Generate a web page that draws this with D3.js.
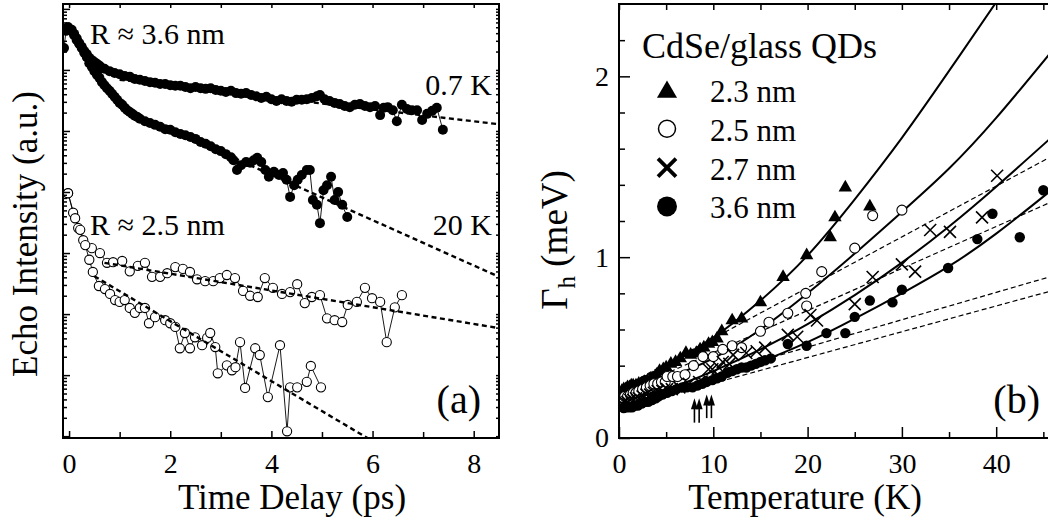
<!DOCTYPE html>
<html>
<head>
<meta charset="utf-8">
<script src="https://cdn.jsdelivr.net/npm/d3@7"></script>
<style>
body { margin: 0; background: #fff; }
svg { display: block; font-family: "Liberation Serif", "Times New Roman", serif; }
</style>
</head>
<body>
<div id="chart"></div>
<script>
// ---- panel (a): echo decay, [time delay (ps), log10 intensity (a.u.)] ----
var echo36_07K = [[-0.10,-0.64],[-0.06,-0.36],[-0.02,-0.30],[0.05,-0.34],[0.10,-0.41],[0.15,-0.48],[0.20,-0.56],[0.25,-0.62],[0.30,-0.69],[0.35,-0.74],[0.40,-0.80],[0.45,-0.84],[0.50,-0.87],[0.55,-0.90],[0.60,-0.93],[0.65,-0.97],[0.70,-0.98],[0.80,-1.02],[0.90,-1.05],[1.00,-1.07],[1.10,-1.10],[1.20,-1.11],[1.30,-1.15],[1.40,-1.16],[1.50,-1.18],[1.60,-1.20],[1.70,-1.21],[1.80,-1.23],[1.90,-1.23],[2.00,-1.25],[2.10,-1.26],[2.20,-1.26],[2.30,-1.28],[2.40,-1.30],[2.50,-1.28],[2.60,-1.30],[2.70,-1.31],[2.80,-1.30],[2.90,-1.33],[3.00,-1.34],[3.10,-1.36],[3.20,-1.34],[3.30,-1.38],[3.40,-1.39],[3.50,-1.38],[3.60,-1.41],[3.70,-1.43],[3.80,-1.46],[3.90,-1.44],[4.00,-1.48],[4.10,-1.51],[4.20,-1.48],[4.30,-1.51],[4.40,-1.52],[4.50,-1.49],[4.60,-1.49],[4.70,-1.48],[4.80,-1.46],[4.90,-1.43],[4.96,-1.41],[5.05,-1.48],[5.15,-1.51],[5.25,-1.54],[5.35,-1.56],[5.45,-1.59],[5.55,-1.61],[5.65,-1.57],[5.75,-1.56],[5.85,-1.59],[5.95,-1.61],[6.05,-1.59],[6.15,-1.74],[6.22,-1.62],[6.30,-1.61],[6.40,-1.66],[6.48,-1.84],[6.58,-1.57],[6.68,-1.64],[6.78,-1.66],[6.88,-1.66],[6.98,-1.82],[7.08,-1.72],[7.18,-1.67],[7.27,-1.62],[7.39,-1.98]];
var echo36_20K = [[-0.02,-0.30],[0.05,-0.36],[0.10,-0.43],[0.15,-0.51],[0.20,-0.57],[0.25,-0.64],[0.30,-0.72],[0.35,-0.79],[0.40,-0.89],[0.45,-0.95],[0.50,-1.02],[0.55,-1.08],[0.60,-1.13],[0.65,-1.20],[0.70,-1.25],[0.75,-1.30],[0.80,-1.34],[0.85,-1.39],[0.90,-1.44],[0.95,-1.49],[1.00,-1.54],[1.05,-1.57],[1.10,-1.62],[1.15,-1.66],[1.20,-1.69],[1.25,-1.72],[1.30,-1.75],[1.35,-1.77],[1.40,-1.80],[1.50,-1.84],[1.60,-1.87],[1.70,-1.90],[1.80,-1.93],[1.90,-1.97],[2.00,-1.98],[2.10,-2.02],[2.20,-2.05],[2.30,-2.07],[2.40,-2.10],[2.50,-2.13],[2.60,-2.18],[2.70,-2.21],[2.80,-2.25],[2.90,-2.30],[3.00,-2.33],[3.10,-2.38],[3.20,-2.43],[3.25,-2.48],[3.32,-2.64],[3.40,-2.56],[3.50,-2.51],[3.58,-2.52],[3.65,-2.48],[3.72,-2.44],[3.80,-2.51],[3.88,-2.64],[3.95,-2.75],[4.05,-2.67],[4.15,-2.72],[4.23,-2.69],[4.30,-2.80],[4.37,-3.08],[4.45,-2.89],[4.52,-2.80],[4.60,-2.72],[4.70,-2.64],[4.76,-2.64],[4.82,-3.13],[4.90,-3.21],[4.96,-3.51],[5.03,-2.97],[5.10,-2.89],[5.18,-2.75],[5.25,-3.13],[5.32,-3.00],[5.40,-3.21],[5.50,-3.41]];
var echo25_slow = [[-0.02,-3.02],[0.08,-3.34],[0.18,-3.59],[0.28,-3.79],[0.45,-3.92],[0.61,-4.00],[0.75,-4.16],[0.87,-4.15],[1.05,-4.13],[1.20,-4.30],[1.36,-4.21],[1.50,-4.16],[1.64,-4.39],[1.80,-4.39],[1.94,-4.33],[2.10,-4.23],[2.25,-4.26],[2.39,-4.31],[2.53,-4.43],[2.69,-4.46],[2.85,-4.46],[2.98,-4.41],[3.12,-4.36],[3.28,-4.41],[3.44,-4.62],[3.58,-4.70],[3.73,-4.72],[3.87,-4.41],[4.03,-4.57],[4.21,-4.67],[4.37,-4.64],[4.51,-4.51],[4.66,-4.82],[4.80,-4.72],[4.96,-4.69],[5.10,-5.07],[5.25,-5.10],[5.40,-5.13],[5.51,-4.85],[5.69,-4.80],[5.85,-4.57],[5.99,-4.74],[6.15,-4.80],[6.28,-5.46],[6.44,-4.89],[6.58,-4.69]];
var echo25_fast = [[-0.02,-3.02],[0.12,-3.43],[0.22,-3.62],[0.32,-3.87],[0.40,-4.11],[0.47,-4.31],[0.59,-4.54],[0.71,-4.59],[0.81,-4.67],[0.91,-4.77],[1.00,-4.80],[1.10,-4.77],[1.20,-4.90],[1.30,-4.98],[1.40,-4.90],[1.50,-4.90],[1.58,-5.15],[1.70,-5.05],[1.90,-5.10],[2.00,-5.15],[2.10,-5.21],[2.19,-5.56],[2.29,-5.31],[2.39,-5.56],[2.49,-5.38],[2.63,-5.51],[2.73,-5.39],[2.79,-5.31],[2.89,-5.54],[2.94,-5.97],[3.12,-5.84],[3.22,-5.92],[3.29,-5.87],[3.38,-5.46],[3.48,-6.21],[3.68,-5.56],[3.77,-5.67],[3.93,-6.36],[4.17,-5.51],[4.31,-6.92],[4.37,-6.20],[4.51,-6.20],[4.70,-6.11],[4.78,-5.85],[4.98,-6.20]];
// exponential fits (straight on the log axis)
var fit36_07K = [[1.0,-1.16],[8.5,-1.89]];
var fit36_20K = [[2.5,-2.16],[8.5,-4.39]];
var fit25_slow = [[0.7,-4.16],[8.5,-5.23]];
var fit25_fast = [[0.5,-4.38],[6.0,-7.08]];
var timeTicks = [0, 2, 4, 6, 8];

// ---- panel (b): homogeneous linewidth, [temperature (K), Gamma_h (meV)] ----
var gam23 = [[0.3,0.26],[0.5,0.27],[0.7,0.27],[0.9,0.28],[1.1,0.28],[1.3,0.29],[1.5,0.29],[1.8,0.29],[2.1,0.30],[2.4,0.30],[2.7,0.31],[3.0,0.31],[3.3,0.32],[3.6,0.33],[4.0,0.35],[4.3,0.37],[4.7,0.38],[5.0,0.39],[5.5,0.41],[6.0,0.42],[6.5,0.44],[7.1,0.47],[7.6,0.46],[8.2,0.47],[8.6,0.49],[9.0,0.50],[9.5,0.52],[9.9,0.53],[10.4,0.55],[10.9,0.59],[12.0,0.65],[13.0,0.66],[15.0,0.75],[17.4,0.89],[19.9,1.01],[22.4,1.11],[22.9,1.22],[24.0,1.385],[26.6,1.28]];
var gam25 = [[0.3,0.22],[0.6,0.23],[0.9,0.23],[1.2,0.24],[1.5,0.25],[1.8,0.25],[2.1,0.26],[2.5,0.27],[2.9,0.28],[3.3,0.29],[3.7,0.30],[4.1,0.30],[4.5,0.31],[4.9,0.31],[5.1,0.34],[5.7,0.34],[6.2,0.34],[7.0,0.35],[7.9,0.40],[8.9,0.45],[10.0,0.45],[11.0,0.49],[12.0,0.51],[13.0,0.50],[15.0,0.59],[15.9,0.64],[17.9,0.69],[19.8,0.80],[19.9,0.73],[21.5,0.92],[25.0,1.05],[26.9,1.23],[30.0,1.26]];
var gam27 = [[0.3,0.19],[0.6,0.20],[0.9,0.20],[1.2,0.21],[1.5,0.21],[1.8,0.22],[2.1,0.22],[2.5,0.23],[2.9,0.24],[3.3,0.24],[3.7,0.25],[4.1,0.26],[4.6,0.26],[5.1,0.27],[5.6,0.27],[6.4,0.28],[7.4,0.30],[8.5,0.31],[9.5,0.38],[9.9,0.38],[10.6,0.39],[11.0,0.42],[11.7,0.41],[12.1,0.46],[13.5,0.47],[14.6,0.48],[15.5,0.50],[17.9,0.57],[18.9,0.56],[20.3,0.68],[21.0,0.65],[25.0,0.74],[26.9,0.89],[30.0,0.96],[31.4,0.92],[33.0,1.15],[35.1,1.14],[38.5,1.22],[40.1,1.45]];
var gam36 = [[0.5,0.165],[0.8,0.17],[1.1,0.17],[1.4,0.17],[1.7,0.18],[2.0,0.18],[2.4,0.19],[2.8,0.20],[3.1,0.20],[3.5,0.21],[3.9,0.22],[4.2,0.23],[4.6,0.24],[5.1,0.25],[5.6,0.26],[6.1,0.27],[6.7,0.28],[7.2,0.28],[7.8,0.28],[8.3,0.29],[8.8,0.30],[9.3,0.31],[9.9,0.32],[10.4,0.33],[10.9,0.34],[11.5,0.36],[12.0,0.37],[12.5,0.38],[13.0,0.39],[13.5,0.39],[14.0,0.40],[14.5,0.41],[15.0,0.42],[15.5,0.43],[16.1,0.44],[17.9,0.52],[19.9,0.51],[22.0,0.58],[24.0,0.58],[25.0,0.67],[26.6,0.76],[29.0,0.75],[30.0,0.82],[34.9,0.94],[38.0,1.10],[39.6,1.24],[42.5,1.11],[45.0,1.37]];
// full fits (solid) and linear parts (dashed)
var fit23 = [[0,0.27],[5,0.40],[10,0.555],[15,0.76],[20,1.01],[25,1.32],[30,1.66],[35,2.03],[40,2.41],[41,2.49]];
var fit25 = [[0,0.24],[5,0.33],[10,0.44],[15,0.60],[20,0.80],[25,1.02],[30,1.25],[35,1.49],[40,1.77],[45.6,2.12]];
var fit27 = [[0,0.20],[5,0.27],[10,0.37],[15,0.49],[20,0.63],[25,0.79],[30,0.97],[35,1.17],[40,1.39],[45.6,1.65]];
var fit36 = [[0,0.16],[5,0.24],[10,0.32],[15,0.42],[20,0.53],[25,0.66],[30,0.80],[35,0.95],[40,1.13],[45.6,1.36]];
var lin23 = [[0,0.27],[45.6,1.55]];
var lin25 = [[0,0.24],[45.6,1.30]];
var lin27 = [[0,0.20],[45.6,0.89]];
var lin36 = [[0,0.16],[45.6,0.81]];
var arrowT = [8.0, 8.5, 9.3, 9.8];
var arrowTip = [0.22, 0.22, 0.24, 0.24];
var arrowTail = [0.085, 0.085, 0.11, 0.11];
var sizeNames = ["2.3 nm", "2.5 nm", "2.7 nm", "3.6 nm"];
var tempTicks = [0, 10, 20, 30, 40];
var gammaTicks = [0, 1, 2];

var serif = '"Liberation Serif", "Times New Roman", serif';
var svg = d3.select("#chart").append("svg")
  .attr("width", 1048)
  .attr("height", 523);

// ================= panel (a) =================
var xEcho = d3.scaleLinear().domain([-0.12, 8.5]).range([63, 499]);
var yEcho = d3.scaleLog().domain([Math.pow(10, -7.03), Math.pow(10, 0.08)]).range([438, 4]);

svg.append("clipPath").attr("id", "clipA")
  .append("rect").attr("x", 63).attr("y", 4).attr("width", 436).attr("height", 434);
var gA = svg.append("g").attr("clip-path", "url(#clipA)");

var echoLine = d3.line()
  .x(d => xEcho(d[0]))
  .y(d => yEcho(Math.pow(10, d[1])));

[echo36_07K, echo36_20K, echo25_slow, echo25_fast].forEach(function(s) {
  gA.append("path").attr("d", echoLine(s))
    .attr("fill", "none").attr("stroke", "#000").attr("stroke-width", 0.9);
});

[echo36_07K, echo36_20K].forEach(function(s) {
  gA.selectAll(null).data(s).enter().append("circle")
    .attr("cx", d => xEcho(d[0]))
    .attr("cy", d => yEcho(Math.pow(10, d[1])))
    .attr("r", 5).attr("fill", "#000");
});
[echo25_slow, echo25_fast].forEach(function(s) {
  gA.selectAll(null).data(s).enter().append("circle")
    .attr("cx", d => xEcho(d[0]))
    .attr("cy", d => yEcho(Math.pow(10, d[1])))
    .attr("r", 4.6).attr("fill", "#fff").attr("stroke", "#000").attr("stroke-width", 1.1);
});

[fit36_07K, fit36_20K, fit25_slow, fit25_fast].forEach(function(s) {
  gA.append("path").attr("d", echoLine(s))
    .attr("fill", "none").attr("stroke", "#000")
    .attr("stroke-width", 2.4).attr("stroke-dasharray", "5,3.5");
});

// axes of panel (a), ticks inward
function styleAxis(g) {
  g.select(".domain").remove();
  g.selectAll("line").attr("stroke-width", 1.5);
  g.attr("font-family", serif).attr("font-size", 28);
  g.selectAll("text").attr("fill", "#000");
}
var allEchoTicks = yEcho.ticks();
var echoMajor = allEchoTicks.filter(v => Math.abs(Math.log10(v) - Math.round(Math.log10(v))) < 1e-6);
var echoMinor = allEchoTicks.filter(v => echoMajor.indexOf(v) < 0);

svg.append("g").attr("transform", "translate(0,438)")
  .call(d3.axisBottom(xEcho).tickValues([1, 3, 5, 7]).tickSize(-6).tickFormat(""))
  .call(styleAxis);
svg.append("g").attr("transform", "translate(0,438)")
  .call(d3.axisBottom(xEcho).tickValues(timeTicks).tickSize(-7).tickPadding(15).tickFormat(d3.format("d")))
  .call(styleAxis);
svg.append("g").attr("transform", "translate(0,4)")
  .call(d3.axisTop(xEcho).tickValues(d3.range(0, 9)).tickSize(-4).tickFormat(""))
  .call(styleAxis);
svg.append("g").attr("transform", "translate(63,0)")
  .call(d3.axisLeft(yEcho).tickValues(echoMinor).tickSize(-4).tickFormat(""))
  .call(styleAxis);
svg.append("g").attr("transform", "translate(63,0)")
  .call(d3.axisLeft(yEcho).tickValues(echoMajor).tickSize(-7).tickFormat(""))
  .call(styleAxis);
svg.append("g").attr("transform", "translate(499,0)")
  .call(d3.axisRight(yEcho).tickValues(allEchoTicks).tickSize(-3).tickFormat(""))
  .call(styleAxis);

svg.append("rect").attr("x", 63).attr("y", 4).attr("width", 436).attr("height", 434)
  .attr("fill", "none").attr("stroke", "#000").attr("stroke-width", 2);

// labels (a)
svg.append("text").attr("x", 292).attr("y", 509).attr("text-anchor", "middle")
  .attr("font-size", 35).text("Time Delay (ps)");
svg.append("text").attr("transform", "translate(37,234) rotate(-90)").attr("text-anchor", "middle")
  .attr("font-size", 35).text("Echo Intensity (a.u.)");
svg.append("text").attr("x", 90).attr("y", 44).attr("font-size", 30).text("R \u2248 3.6 nm");
svg.append("text").attr("x", 90).attr("y", 235).attr("font-size", 30).text("R \u2248 2.5 nm");
svg.append("text").attr("x", 492).attr("y", 95).attr("text-anchor", "end").attr("font-size", 30).text("0.7 K");
svg.append("text").attr("x", 492).attr("y", 235).attr("text-anchor", "end").attr("font-size", 30).text("20 K");
svg.append("text").attr("x", 481).attr("y", 413).attr("text-anchor", "end").attr("font-size", 40).text("(a)");

// ================= panel (b) =================
var xT = d3.scaleLinear().domain([0, 45.6]).range([619, 1049]);
var yG = d3.scaleLinear().domain([0, 2.4]).range([438, 4]);

svg.append("clipPath").attr("id", "clipB")
  .append("rect").attr("x", 619).attr("y", 4).attr("width", 430).attr("height", 434);
var gB = svg.append("g").attr("clip-path", "url(#clipB)");

var gLine = d3.line().x(d => xT(d[0])).y(d => yG(d[1]));
var gCurve = d3.line().x(d => xT(d[0])).y(d => yG(d[1])).curve(d3.curveNatural);

[lin23, lin25, lin27, lin36].forEach(function(s) {
  gB.append("path").attr("d", gLine(s))
    .attr("fill", "none").attr("stroke", "#000")
    .attr("stroke-width", 1.2).attr("stroke-dasharray", "5,3");
});
[fit23, fit25, fit27, fit36].forEach(function(s) {
  gB.append("path").attr("d", gCurve(s))
    .attr("fill", "none").attr("stroke", "#000").attr("stroke-width", 2);
});

var triPath = d3.symbol(d3.symbolTriangle, 78)();
gB.selectAll(null).data(gam23).enter().append("path")
  .attr("d", triPath)
  .attr("transform", d => `translate(${xT(d[0])},${yG(d[1])})`)
  .attr("fill", "#000");
gB.selectAll(null).data(gam25).enter().append("circle")
  .attr("cx", d => xT(d[0])).attr("cy", d => yG(d[1])).attr("r", 5)
  .attr("fill", "#fff").attr("stroke", "#000").attr("stroke-width", 1.1);
gB.selectAll(null).data(gam27).enter().append("path")
  .attr("d", "M-6,-6L6,6M-6,6L6,-6")
  .attr("transform", d => `translate(${xT(d[0])},${yG(d[1])})`)
  .attr("stroke", "#000").attr("stroke-width", 1.6);
gB.selectAll(null).data(gam36).enter().append("circle")
  .attr("cx", d => xT(d[0])).attr("cy", d => yG(d[1])).attr("r", 5.2)
  .attr("fill", "#000");

// arrows
arrowT.forEach(function(t, i) {
  var x = xT(t), y1 = yG(arrowTip[i]), y0 = yG(arrowTail[i]);
  svg.append("line").attr("x1", x).attr("x2", x).attr("y1", y0).attr("y2", y1 + 8)
    .attr("stroke", "#000").attr("stroke-width", 1.6);
  svg.append("path").attr("d", `M${x},${y1}L${x - 3.5},${y1 + 11}L${x + 3.5},${y1 + 11}Z`)
    .attr("fill", "#000");
});

// axes of panel (b)
svg.append("g").attr("transform", "translate(0,438)")
  .call(d3.axisBottom(xT).tickValues([5, 15, 25, 35, 45]).tickSize(-6).tickFormat(""))
  .call(styleAxis);
svg.append("g").attr("transform", "translate(0,438)")
  .call(d3.axisBottom(xT).tickValues(tempTicks).tickSize(-11).tickPadding(15).tickFormat(d3.format("d")))
  .call(styleAxis);
svg.append("g").attr("transform", "translate(0,4)")
  .call(d3.axisTop(xT).tickValues(d3.range(0, 46, 5)).tickSize(-6).tickFormat(""))
  .call(styleAxis);
svg.append("g").attr("transform", "translate(619,0)")
  .call(d3.axisLeft(yG).tickValues(d3.range(0.2, 2.4, 0.2).filter(v => Math.abs(v - 1) > 0.01 && Math.abs(v - 2) > 0.01)).tickSize(-6).tickFormat(""))
  .call(styleAxis);
svg.append("g").attr("transform", "translate(619,0)")
  .call(d3.axisLeft(yG).tickValues(gammaTicks).tickSize(-11).tickPadding(10).tickFormat(d3.format("d")))
  .call(styleAxis);

svg.append("rect").attr("x", 619).attr("y", 4).attr("width", 440).attr("height", 434)
  .attr("fill", "none").attr("stroke", "#000").attr("stroke-width", 2);

// labels (b)
svg.append("text").attr("x", 805).attr("y", 509).attr("text-anchor", "middle")
  .attr("font-size", 35).text("Temperature (K)");
var yl = svg.append("text").attr("transform", "translate(567,240) rotate(-90)")
  .attr("text-anchor", "middle").attr("font-size", 37);
yl.append("tspan").text("\u0393");
yl.append("tspan").attr("font-size", 25).attr("dy", 8).text("h");
yl.append("tspan").attr("dy", -8).text(" (meV)");
svg.append("text").attr("x", 1040).attr("y", 413).attr("text-anchor", "end").attr("font-size", 40).text("(b)");

// legend
svg.append("text").attr("x", 642).attr("y", 58).attr("font-size", 36).text("CdSe/glass QDs");
var leg = svg.append("g");
sizeNames.forEach(function(name, i) {
  var cy = 90 + i * 38.8, cx = 667;
  if (i === 0) {
    leg.append("path").attr("d", d3.symbol(d3.symbolTriangle, 175)())
      .attr("transform", `translate(${cx},${cy + 2})`).attr("fill", "#000");
  } else if (i === 1) {
    leg.append("circle").attr("cx", cx).attr("cy", cy).attr("r", 8.5)
      .attr("fill", "#fff").attr("stroke", "#000").attr("stroke-width", 1.5);
  } else if (i === 2) {
    leg.append("path").attr("d", "M-9,-9L9,9M-9,9L9,-9")
      .attr("transform", `translate(${cx},${cy})`)
      .attr("stroke", "#000").attr("stroke-width", 3.8);
  } else {
    leg.append("circle").attr("cx", cx).attr("cy", cy).attr("r", 10).attr("fill", "#000");
  }
  leg.append("text").attr("x", 710).attr("y", cy + 12).attr("font-size", 31).text(name);
});
</script>
</body>
</html>
